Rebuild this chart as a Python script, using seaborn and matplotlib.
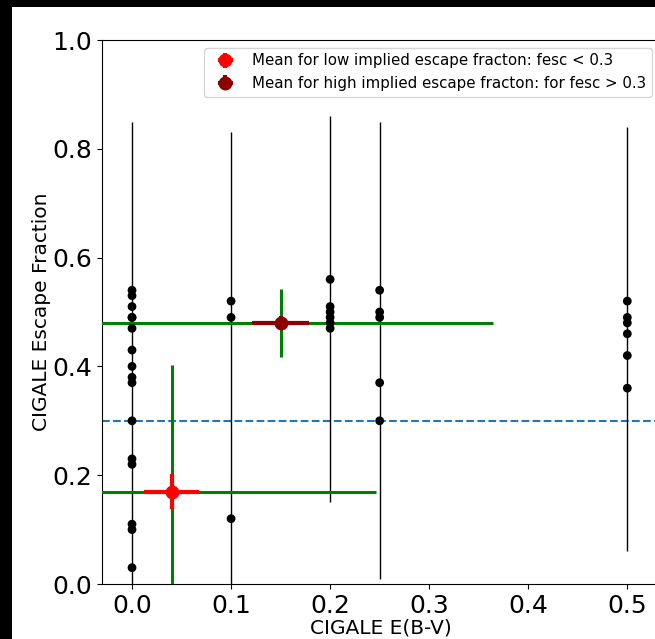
import pandas as pd
import matplotlib.pyplot as plt
import seaborn as sns
from matplotlib.patches import Rectangle

# CIGALE fits: escape fraction for each E(B-V) value on the grid
fesc_ebv_000 = [0.54, 0.53, 0.51, 0.49, 0.49, 0.47, 0.43, 0.40, 0.38, 0.37, 0.30, 0.23, 0.22, 0.11, 0.10, 0.03]
fesc_ebv_010 = [0.52, 0.49, 0.12]
fesc_ebv_020 = [0.56, 0.51, 0.50, 0.49, 0.48, 0.47]
fesc_ebv_025 = [0.54, 0.50, 0.49, 0.37, 0.30]
fesc_ebv_050 = [0.52, 0.49, 0.48, 0.46, 0.42, 0.36]

# extent of the escape fraction error bars for each E(B-V) value
group_ebv = [0.0, 0.1, 0.2, 0.25, 0.5]
err_low = [-0.05, -0.05, 0.15, 0.01, 0.06]
err_high = [0.85, 0.83, 0.86, 0.85, 0.84]

# means of the two groups, their errors and spreads
mean_ebv = [0.04, 0.15]
mean_fesc = [0.17, 0.48]
mean_xerr = [0.028, 0.029]
mean_yerr = [0.032, 0.012]
spread_xerr = [0.206, 0.214]
spread_yerr = [0.233, 0.062]
mean_colors = ['red', 'darkred']
mean_labels = ['Mean for low implied escape fracton: fesc < 0.3',
               'Mean for high implied escape fracton: for fesc > 0.3']

groups = [fesc_ebv_000, fesc_ebv_010, fesc_ebv_020, fesc_ebv_025, fesc_ebv_050]
info = pd.DataFrame({
    'ebv': [e for e, g in zip(group_ebv, groups) for _ in g],
    'fesc': [v for g in groups for v in g],
})

fig = plt.figure(figsize=(6.55, 6.39), dpi=100, facecolor='black')
fig.add_artist(Rectangle((12 / 655, 0), 1, 632 / 639, transform=fig.transFigure,
                         facecolor='white', edgecolor='none', zorder=-10))
ax = fig.add_axes([102 / 655, 55 / 639, 558 / 655, 544 / 639])

# individual error bars and points
ax.vlines(group_ebv, err_low, err_high, color='black', lw=1, zorder=1)
sns.scatterplot(data=info, x='ebv', y='fesc', color='black', s=40,
                edgecolor='none', ax=ax, zorder=4)

# spread of each group (green) and the mean with its error
for i in range(2):
    ax.errorbar(mean_ebv[i], mean_fesc[i], xerr=spread_xerr[i], yerr=spread_yerr[i],
                fmt='none', ecolor='green', elinewidth=2.2, zorder=3)
for i in range(2):
    ax.errorbar(mean_ebv[i], mean_fesc[i], xerr=mean_xerr[i], yerr=mean_yerr[i],
                fmt='o', color=mean_colors[i], ms=9, elinewidth=3,
                label=mean_labels[i], zorder=5)

ax.axhline(0.3, color='C0', ls='--', lw=1.5, zorder=0)

ax.set_xlim(-0.0303, 0.533)
ax.set_ylim(0, 1.0)
ax.set_xticks([0.0, 0.1, 0.2, 0.3, 0.4, 0.5])
ax.tick_params(labelsize=18)
ax.set_xlabel('CIGALE E(B-V)', fontsize=14.5)
ax.xaxis.set_label_coords(0.5, -0.0625)
ax.set_ylabel('CIGALE Escape Fraction', fontsize=14.5, labelpad=1)
ax.legend(loc='upper right', fontsize=10.8)

plt.savefig('out.png', dpi=100, facecolor=fig.get_facecolor())
